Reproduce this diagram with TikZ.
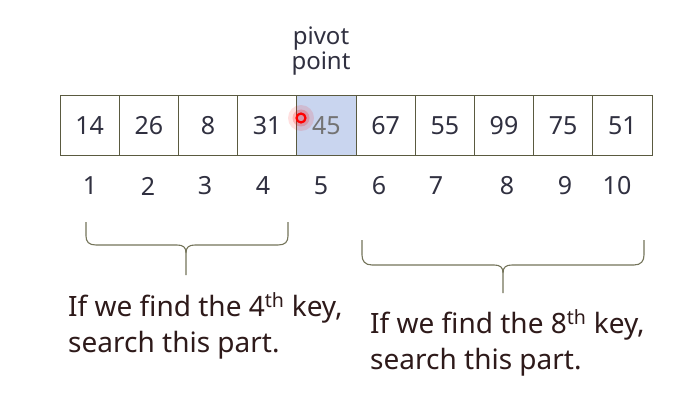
\documentclass[tikz,border=0pt]{standalone}
\usepackage{fontspec}
\setmainfont{Noto Sans}
\begin{document}
\begin{tikzpicture}[x=1pt,y=-1pt]
\definecolor{boxline}{HTML}{5A5A40}
\definecolor{bracecol}{HTML}{74745A}
\definecolor{txt}{HTML}{303040}
\definecolor{lowtxt}{HTML}{2E1A1A}
\definecolor{pivfill}{HTML}{C9D5EF}
\tikzset{
  cell/.style={draw=boxline, line width=1pt, minimum width=59.2pt, minimum height=59pt, inner sep=0pt, text=txt, font=\fontsize{25}{25}\selectfont, anchor=center},
  idx/.style={text=txt, font=\fontsize{25}{25}\selectfont, inner sep=0pt},
  bracestyle/.style={draw=bracecol, line width=1.1pt},
  note/.style={text=lowtxt, font=\fontsize{28}{36}\selectfont, align=left, inner sep=0pt, anchor=north west}
}
\useasboundingbox (0,0) rectangle (700,414);
\fill[white] (0,0) rectangle (700,414);
% cells
\foreach \v [count=\i] in {14,26,8,31,45,67,55,99,75,51}{
  \ifnum\i=5
    \node[cell, fill=pivfill, text=black!55] (c\i) at ({60+59.2*(\i-0.5)},125.5) {\v};
  \else
    \node[cell] (c\i) at ({60+59.2*(\i-0.5)},125.5) {\v};
  \fi
}
% index labels
\foreach \x [count=\i] in {90,148,205,263,321,379,436,507,565,617}{
  \node[idx] (i\i) at (\x,186) {\i};
}
% pivot label
\node[text=txt, font=\fontsize{24}{25}\selectfont, align=center, inner sep=0pt] (pivot) at (321,51) {pivot\\point};
% laser pointer dot
\fill[red, opacity=0.12] (301,118) circle (13);
\fill[red, opacity=0.2] (301,118) circle (8.5);
\draw[red, line width=2.2pt] (301,118) circle (4.5);
% left brace
\coordinate (lb) at (186,275);
\draw[bracestyle] (86,222) -- (86,236) .. controls (86,242) and (89,245) .. (96,245) -- (177,245) .. controls (183,245) and (186,247) .. (186,253) -- (lb);
\draw[bracestyle] (288,222) -- (288,236) .. controls (288,242) and (285,245) .. (278,245) -- (195,245) .. controls (189,245) and (186,247) .. (186,253);
% right brace
\coordinate (rb) at (503,293);
\draw[bracestyle] (362,240) -- (362,255) .. controls (362,261) and (365,265) .. (372,265) -- (494,265) .. controls (500,265) and (503,267) .. (503,273) -- (rb);
\draw[bracestyle] (644,240) -- (644,255) .. controls (644,261) and (641,265) .. (634,265) -- (512,265) .. controls (506,265) and (503,267) .. (503,273);
% notes
\node[note] (n1) at (68,292) {If we find the 4\textsuperscript{th} key,\\search this part.};
\node[note] (n2) at (370,309) {If we find the 8\textsuperscript{th} key,\\search this part.};
\end{tikzpicture}
\end{document}
